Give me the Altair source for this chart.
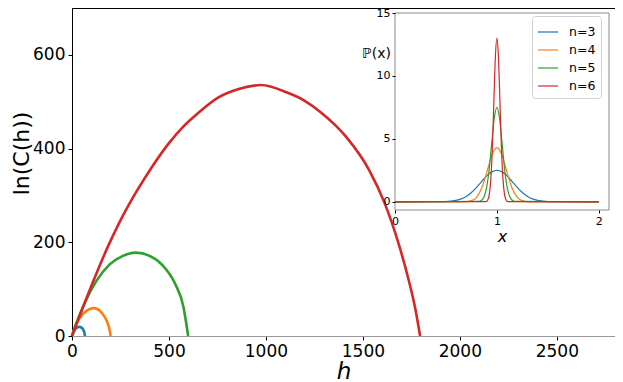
import altair as alt
import pandas as pd

# ---------------- data ----------------
labels = ["n=3", "n=4", "n=5", "n=6"]
colors = ["#1f77b4", "#ff7f0e", "#2ca02c", "#d62728"]

# main panel: ln(C(h)) versus h
h3 = [0, 8, 16, 24, 32, 38, 46, 54, 60, 64, 67]
c3 = [0, 8.5, 14, 17.3, 19, 19.4, 18.6, 15.8, 11.5, 7, 0]

h4 = [0, 15, 30, 50, 75, 95, 112, 130, 150, 165, 180, 190, 195, 199]
c4 = [0, 19.5, 32, 44, 53.5, 58, 59.4, 57.6, 51, 43, 31.5, 19.5, 10, 0]

h5 = [0, 24, 66, 126, 193, 260, 329, 400, 465, 533, 575, 588, 599]
c5 = [0, 28.8, 70.8, 117.6, 152.4, 170.5, 178, 171, 152, 110.5, 61.5, 30, 0]

h6 = [0, 32, 75, 126, 185, 244, 329, 414, 499, 575, 651, 753, 860, 975,
      1109, 1200, 1279, 1415, 1533, 1610, 1686, 1737, 1770, 1795]
c6 = [0, 35, 81, 133.5, 190.7, 242, 305.8, 361.9, 411.2, 447.5, 476, 508.7, 527, 535.6,
      519.5, 502, 478.7, 424.3, 353.5, 285.7, 194.5, 118, 58.6, 0]

# inset: P(x) versus x
x3 = [0, 0.5, 0.55, 0.6, 0.65, 0.7, 0.75, 0.8, 0.85, 0.9, 0.95, 1.0,
      1.05, 1.1, 1.15, 1.2, 1.25, 1.3, 1.35, 1.4, 1.45, 1.5, 2.0]
p3 = [0, 0.02, 0.05, 0.11, 0.23, 0.43, 0.74, 1.15, 1.61, 2.06, 2.38, 2.5,
      2.38, 2.06, 1.61, 1.15, 0.74, 0.43, 0.23, 0.11, 0.05, 0.02, 0]

x4 = [0, 0.7, 0.75, 0.8, 0.85, 0.9, 0.95, 1.0, 1.05, 1.1, 1.15, 1.2, 1.25, 1.3, 2.0]
p4 = [0, 0.02, 0.09, 0.36, 1.07, 2.32, 3.69, 4.3, 3.69, 2.32, 1.07, 0.36, 0.09, 0.02, 0]

x5 = [0, 0.825, 0.85, 0.875, 0.9, 0.925, 0.95, 0.975, 1.0, 1.025, 1.05,
      1.075, 1.1, 1.125, 1.15, 1.175, 2.0]
p5 = [0, 0.03, 0.12, 0.42, 1.18, 2.65, 4.72, 6.68, 7.5, 6.68, 4.72,
      2.65, 1.18, 0.42, 0.12, 0.03, 0]

x6 = [0, 0.895, 0.91, 0.925, 0.94, 0.955, 0.97, 0.985, 1.0, 1.015, 1.03,
      1.045, 1.06, 1.075, 1.09, 1.105, 2.0]
p6 = [0, 0.02, 0.14, 0.57, 1.76, 4.2, 7.9, 11.5, 13, 11.5, 7.9,
      4.2, 1.76, 0.57, 0.14, 0.02, 0]

main_ticks_x = [0, 500, 1000, 1500, 2000, 2500]
main_ticks_y = [0, 200, 400, 600]
inset_ticks_x = [0, 1, 2]
inset_ticks_y = [0, 5, 10, 15]

MAIN_XLIM = [0, 2800]
MAIN_YLIM = [0, 700]
INSET_XLIM = [0, 2.1]
INSET_YLIM = [-0.65, 15]

# ---------------- tables ----------------
main_rows = []
for lab, hs, cs in zip(labels, [h3, h4, h5, h6], [c3, c4, c5, c6]):
    for a, b in zip(hs, cs):
        main_rows.append({"n": lab, "h": a, "lnC": b})
main_df = pd.DataFrame(main_rows)

inset_rows = []
for lab, xs, ps in zip(labels, [x3, x4, x5, x6], [p3, p4, p5, p6]):
    for a, b in zip(xs, ps):
        inset_rows.append({"n": lab, "x": a, "p": b})
inset_df = pd.DataFrame(inset_rows)

frame_df = pd.DataFrame({"x0": [INSET_XLIM[0]], "x1": [INSET_XLIM[1]],
                         "y0": [INSET_YLIM[0]], "y1": [INSET_YLIM[1]]})

# ---------------- layout ----------------
W, H = 543, 328
IX = [323, 537]      # inset horizontal range (px, plot coords)
IY = [202, 5]        # inset vertical range (px, plot coords)
FONT = "DejaVu Sans"

color_scale = alt.Scale(domain=labels, range=colors)
ix_scale = alt.Scale(domain=INSET_XLIM, range=IX, nice=False, zero=False)
iy_scale = alt.Scale(domain=INSET_YLIM, range=IY, nice=False, zero=False)

legend = alt.Legend(orient="none", legendX=460, legendY=8, title=None,
                    symbolType="stroke", symbolSize=400,
                    symbolStrokeWidth=1.2, labelFontSize=12.5,
                    labelColor="black", labelOffset=10,
                    fillColor="white", strokeColor="#d0d0d0",
                    cornerRadius=3, padding=5, rowPadding=0)

int_label = "'' + round(datum.value)"

main = alt.Chart(main_df).mark_line(strokeWidth=2.6, interpolate="monotone").encode(
    x=alt.X("h:Q", scale=alt.Scale(domain=MAIN_XLIM, nice=False),
            axis=alt.Axis(values=main_ticks_x, labelExpr=int_label, title="h",
                          titleFontStyle="italic",
                          titleFontSize=23, titleFontWeight="normal", titlePadding=1,
                          labelFontSize=17, labelFlush=False, labelPadding=3,
                          labelOverlap=False,
                          tickSize=4, tickColor="black", domainColor="#9a9a9a",
                          labelColor="black", titleColor="black", grid=False, zindex=1)),
    y=alt.Y("lnC:Q", scale=alt.Scale(domain=MAIN_YLIM, nice=False),
            axis=alt.Axis(values=main_ticks_y, labelExpr=int_label, title="ln(C(h))",
                          titleFontSize=22, titleFontWeight="normal",
                          titleAngle=270, titleAlign="center", titleBaseline="middle",
                          titleX=-51, titleY=145,
                          labelFontSize=17, labelPadding=3, tickSize=4,
                          labelOverlap=False,
                          tickColor="black", domainColor="black",
                          labelColor="black", titleColor="black", grid=False)),
    color=alt.Color("n:N", scale=color_scale, legend=legend),
)

frame = alt.Chart(frame_df).mark_rect(fill="white", stroke="#8a8a8a", strokeWidth=1).encode(
    x=alt.X("x0:Q", scale=ix_scale,
            axis=alt.Axis(orient="bottom", offset=-(H - IY[0]), values=inset_ticks_x,
                          labelExpr=int_label, title="x", titleFontStyle="italic",
                          titleFontSize=16,
                          titleFontWeight="normal", titlePadding=2,
                          labelFontSize=11, labelFlush=False, labelPadding=2,
                          labelOverlap=False, labelBound=False,
                          tickSize=3, tickColor="black", domain=False,
                          labelColor="black", titleColor="black", grid=False, zindex=2)),
    x2="x1:Q",
    y=alt.Y("y0:Q", scale=iy_scale,
            axis=alt.Axis(orient="left", offset=-IX[0], values=inset_ticks_y,
                          labelExpr=int_label, title="ℙ(x)", titleAngle=0,
                          titleFontSize=14,
                          titleFontWeight="normal", titleAlign="center",
                          titleBaseline="middle", titleX=-19, titleY=45,
                          labelFontSize=11, labelPadding=2, tickSize=3,
                          labelOverlap=False,
                          tickColor="black", domain=False,
                          labelColor="black", titleColor="black", grid=False, zindex=2)),
    y2="y1:Q",
)

inset = alt.Chart(inset_df).mark_line(strokeWidth=1.2, interpolate="monotone").encode(
    x=alt.X("x:Q", scale=ix_scale, axis=None),
    y=alt.Y("p:Q", scale=iy_scale, axis=None),
    color=alt.Color("n:N", scale=color_scale, legend=legend),
)

chart = alt.layer(main, frame, inset).resolve_scale(
    x="independent", y="independent"
).properties(
    width=W, height=H,
    autosize=alt.AutoSizeParams(type="none"),
    padding={"left": 64, "top": 0, "right": 0, "bottom": 46},
).configure(font=FONT).configure_view(stroke="black", strokeWidth=1)

chart.save("out.html", embed_options={"renderer": "svg", "actions": False})
